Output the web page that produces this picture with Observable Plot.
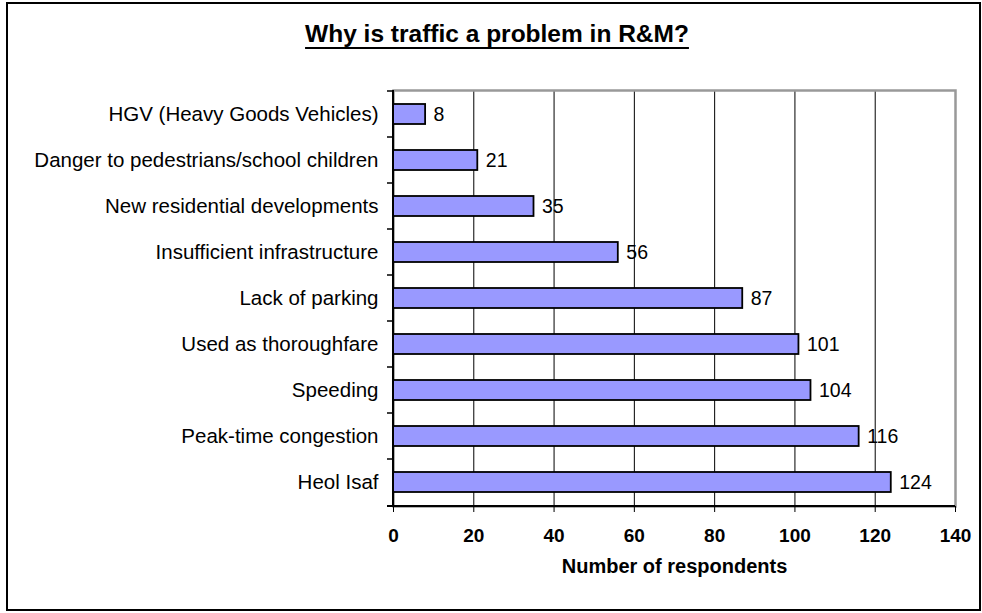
<!DOCTYPE html>
<html>
<head>
<meta charset="utf-8">
<script src="https://cdn.jsdelivr.net/npm/d3@7"></script>
<script src="https://cdn.jsdelivr.net/npm/@observablehq/plot@0.6"></script>
<style>
  html, body { margin: 0; padding: 0; background: #fff; }
  #wrap { position: relative; width: 982px; height: 613px; overflow: hidden; font-family: "Liberation Sans", Arial, sans-serif; }
  #border { position: absolute; left: 6px; top: 2px; width: 975px; height: 609px; border: 2px solid #000; box-sizing: border-box; }
  #title { position: absolute; left: 0; top: 22px; width: 994px; text-align: center; font-weight: bold; font-size: 24.5px; line-height: 24.5px; color: #000; text-decoration: underline; text-decoration-thickness: 2px; text-underline-offset: 5px; }
  #chart { position: absolute; left: 0; top: 70px; }
</style>
</head>
<body>
<div id="wrap">
  <div id="border"></div>
  <div id="title">Why is traffic a problem in R&amp;M?</div>
  <div id="chart"></div>
</div>
<script>
const titleText = "Why is traffic a problem in R&M?";
const axisTitle = "Number of respondents";
const categories = [
  "HGV (Heavy Goods Vehicles)",
  "Danger to pedestrians/school children",
  "New residential developments",
  "Insufficient infrastructure",
  "Lack of parking",
  "Used as thoroughfare",
  "Speeding",
  "Peak-time congestion",
  "Heol Isaf"
];
const values = [8, 21, 35, 56, 87, 101, 104, 116, 124];
const xTicks = [0, 20, 40, 60, 80, 100, 120, 140];
const gridTicks = [20, 40, 60, 80, 100, 120];

const data = categories.map((c, i) => ({category: c, value: values[i]}));

// axis lines + category boundary ticks, computed from the plot's scales
function axisLines(index, scales, vals, dims) {
  const g = d3.create("svg:g");
  const x0 = scales.x(0);
  const xEnd = scales.x(xTicks[xTicks.length - 1]);
  const top = dims.marginTop;
  const bottom = dims.height - dims.marginBottom;
  g.append("line").attr("x1", x0).attr("x2", x0).attr("y1", top).attr("y2", bottom)
    .attr("stroke", "#000").attr("stroke-width", 2);
  g.append("line").attr("x1", x0 - 6).attr("x2", xEnd).attr("y1", bottom).attr("y2", bottom)
    .attr("stroke", "#000").attr("stroke-width", 2);
  const bounds = categories.map(c => scales.y(c));
  bounds.push(bottom);
  for (const b of bounds) {
    g.append("line").attr("x1", x0 - 6).attr("x2", x0).attr("y1", b).attr("y2", b)
      .attr("stroke", "#000").attr("stroke-width", 1.5);
  }
  return g.node();
}

const chart = Plot.plot({
  width: 982,
  height: 543,
  marginLeft: 393,
  marginRight: 27,
  marginTop: 20,
  marginBottom: 107,
  style: {fontFamily: "'Liberation Sans', Arial, sans-serif", color: "#000", background: "transparent", overflow: "visible"},
  x: {domain: [0, 140]},
  y: {domain: categories, padding: 0},
  marks: [
    Plot.ruleX(gridTicks, {stroke: "#000", strokeWidth: 1}),
    Plot.frame({stroke: "#999", strokeWidth: 2.5}),
    Plot.barX(data, {x: "value", y: "category", fill: "#9999ff", stroke: "#000", strokeWidth: 1.8, insetTop: 13, insetBottom: 13}),
    Plot.text(data, {x: "value", y: "category", text: d => String(d.value), dx: 8, textAnchor: "start", fontSize: 19.5, fill: "#000"}),
    Plot.axisX({ticks: xTicks, tickSize: 6, tickPadding: 16, fontSize: 19, fontWeight: "bold", label: null, stroke: "#000", fill: "#000"}),
    Plot.axisY({tickSize: 0, tickPadding: 15, fontSize: 20.5, label: null, fill: "#000"}),
    axisLines,
    Plot.text([axisTitle], {frameAnchor: "bottom", dy: 66, text: d => d, fontSize: 20, fontWeight: "bold", fill: "#000", textAnchor: "middle"})
  ]
});
document.getElementById("chart").appendChild(chart);
</script>
</body>
</html>
